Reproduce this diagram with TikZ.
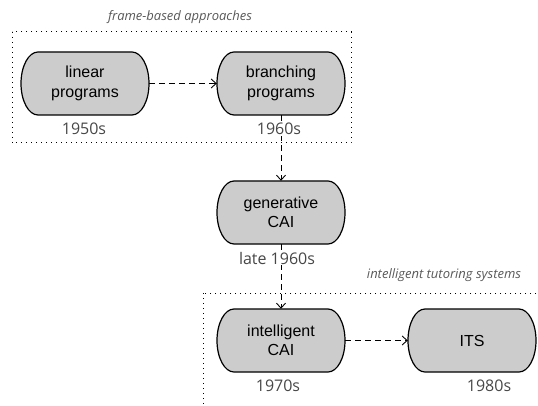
\documentclass[tikz,border=0pt]{standalone}
\usepackage{fontspec}
\setmainfont{Liberation Sans}
\newfontfamily\labfont{Open Sans}
\usetikzlibrary{arrows.meta}
\begin{document}
\begin{tikzpicture}[x=1pt,y=-1pt,
  capsule/.style={draw=black, line width=1.2pt, fill=black!20},
  boxnode/.style={minimum width=128pt, minimum height=63pt, align=center, inner sep=0pt,
    font=\fontsize{16}{19.5}\selectfont},
  datelab/.style={font=\labfont\fontsize{16}{19}\selectfont, text=black!72, inner sep=1pt},
  grouplab/.style={font=\labfont\itshape\fontsize{13}{15}\selectfont, text=black!65},
  dashedarrow/.style={dash pattern=on 6pt off 4pt, line width=0.9pt, -{Straight Barb[length=5pt,width=9pt,line width=0.9pt]}},
  groupbox/.style={line width=1pt, dash pattern=on 1.2pt off 3.8pt}]
\newcommand\capsulebox[4]{%
  \path[capsule] (#1-47,#2-31.5) -- (#1+47,#2-31.5)
    arc[start angle=90,end angle=-90,x radius=17pt,y radius=31.5pt]
    -- (#1-47,#2+31.5)
    arc[start angle=270,end angle=90,x radius=17pt,y radius=31.5pt] -- cycle;
  \node[boxnode] (#3) at (#1,#2) {#4};}
\useasboundingbox (0,0) rectangle (538,406);
\begin{scope}
\clip (0,0) rectangle (538,406);
\draw[groupbox] (12,32) rectangle (351,143);
\draw[groupbox] (203,293) rectangle (560,430);
\end{scope}
\node[grouplab] (g1) at (180,17) {frame-based approaches};
\node[grouplab] (g2) at (444,275) {intelligent tutoring systems};

\capsulebox{85}{83.5}{lin}{linear\\programs}
\capsulebox{281}{83.5}{bra}{branching\\programs}
\capsulebox{281}{212.5}{gen}{generative\\CAI}
\capsulebox{281}{340.5}{ica}{intelligent\\CAI}
\capsulebox{472}{340.5}{its}{ITS}

\draw[dashedarrow] (lin) -- (bra);
\draw[dashedarrow] (bra) -- (gen);
\draw[dashedarrow] (gen) -- (ica);
\draw[dashedarrow] (ica) -- (its);

\node[datelab] (d1) at (84,129) {1950s};
\node[datelab, fill=white] (d2) at (279,129) {1960s};
\node[datelab, fill=white] (d3) at (277,258) {late 1960s};
\node[datelab] (d4) at (278,386) {1970s};
\node[datelab] (d5) at (489,386) {1980s};
\end{tikzpicture}
\end{document}
